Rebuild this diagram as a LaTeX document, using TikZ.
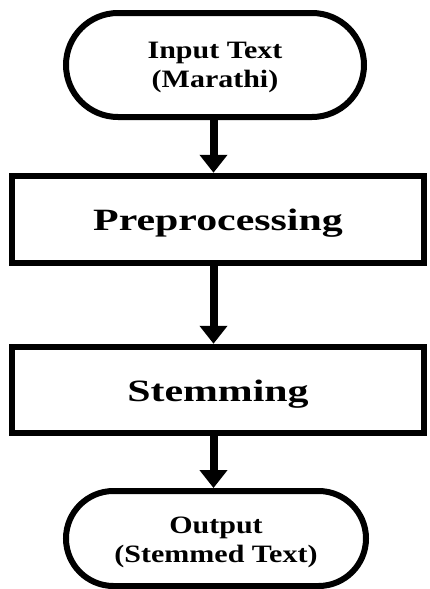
\documentclass[tikz,border=0pt]{standalone}
\usepackage{fontspec}
\setmainfont{Liberation Serif}
\newfontfamily\bigfont[FakeStretch=1.35]{Liberation Serif}
\newfontfamily\smallfont[FakeStretch=1.2]{Liberation Serif}
\usetikzlibrary{shapes.misc,arrows.meta}
\tikzset{
  term/.style={draw, line width=6pt, rounded rectangle, minimum width=298pt, inner sep=0pt},
  termtext/.style={align=center, inner sep=0pt, font=\smallfont\bfseries\fontsize{25}{29}\selectfont},
  procbox/.style={draw, line width=6.5pt, rectangle, minimum width=412pt, inner sep=0pt},
  proctext/.style={inner sep=0pt, font=\bigfont\bfseries\fontsize{31}{34}\selectfont},
  flow/.style={line width=8pt, -{Triangle[width=27pt,length=18pt]}}
}
\begin{document}
\begin{tikzpicture}[x=1pt,y=-1pt]
\useasboundingbox (0,0) rectangle (429,589);
\node[term, minimum height=104pt] (in) at (215,65) {};
\node[termtext] (intxt) at ([yshift=-2pt]in.center) {Input Text\\(Marathi)};
\node[procbox, minimum height=87pt] (pre) at (218,219.5) {};
\node[proctext] (pretxt) at ([yshift=-4pt]pre.center) {Preprocessing};
\node[procbox, minimum height=86pt] (stem) at (218,390) {};
\node[proctext] (stemtxt) at ([yshift=-4pt]stem.center) {Stemming};
\node[term, minimum height=95pt, minimum width=300pt] (out) at (216,538.5) {};
\node[termtext] (outtxt) at ([yshift=-4pt]out.center) {Output\\(Stemmed Text)};
\draw[flow] (in.south -| 213.5,0) -- (pre.north -| 213.5,0);
\draw[flow] (pre.south -| 213.5,0) -- (stem.north -| 213.5,0);
\draw[flow] (stem.south -| 213.5,0) -- (out.north -| 213.5,0);
\end{tikzpicture}
\end{document}
